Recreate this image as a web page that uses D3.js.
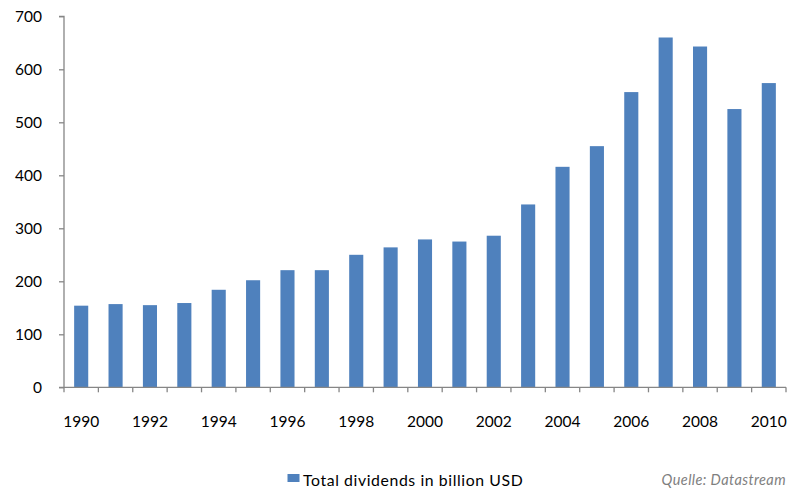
<!DOCTYPE html>
<html>
<head>
<meta charset="utf-8">
<script src="https://cdn.jsdelivr.net/npm/d3@7"></script>
<style>
  html, body { margin: 0; padding: 0; background: #fff; }
  svg { display: block; }
  text { font-family: Lato, "Open Sans", sans-serif; }
</style>
</head>
<body>
<svg id="chart" width="794" height="488"></svg>
<script>
// Yearly totals (billion USD)
const years = [1990, 1991, 1992, 1993, 1994, 1995, 1996, 1997, 1998, 1999, 2000,
               2001, 2002, 2003, 2004, 2005, 2006, 2007, 2008, 2009, 2010];
const dividends = [154, 157, 155, 159, 184, 202, 221, 221, 250, 264, 279,
                   275, 286, 345, 416, 455, 557, 660, 643, 525, 574];
const yTicks = [0, 100, 200, 300, 400, 500, 600, 700];
const xLabelYears = years.filter(y => y % 2 === 0);
const seriesName = "Total dividends in billion USD";
const sourceNote = "Quelle: Datastream";

const svg = d3.select("#chart");
const plotLeft = 64, plotRight = 786, plotTop = 16.3, plotBottom = 387.3;
const axisColor = "#868686";
const barColor = "#4F81BD";
const labelFont = "15.5px";

const x = d3.scaleBand().domain(years).range([plotLeft, plotRight]).paddingInner(0.59).paddingOuter(0.295);
const y = d3.scaleLinear().domain([0, 700]).range([plotBottom, plotTop]);

// bars
svg.append("g").selectAll("rect")
  .data(years.map((yr, i) => ({ yr, v: dividends[i] })))
  .join("rect")
  .attr("x", d => x(d.yr))
  .attr("width", x.bandwidth())
  .attr("y", d => y(d.v))
  .attr("height", d => y(0) - y(d.v))
  .attr("fill", barColor);

// y axis
const yAxis = svg.append("g")
  .attr("transform", `translate(${plotLeft},0)`)
  .call(d3.axisLeft(y).tickValues(yTicks).tickSize(5).tickPadding(17));
yAxis.select(".domain").attr("stroke", axisColor).attr("stroke-width", 1.3)
  .attr("d", `M-5,${plotTop}H0V${plotBottom}`);
yAxis.selectAll(".tick line").attr("stroke", axisColor).attr("stroke-width", 1.3);
yAxis.selectAll(".tick text").attr("fill", "#000").style("font-size", labelFont)
  .style("font-family", "Lato, sans-serif");

// x axis: tick marks sit on band boundaries, labels every second year
const step = x.step();
const bounds = d3.range(years.length + 1).map(i => plotLeft + i * step);
const xg = svg.append("g");
xg.append("line")
  .attr("x1", plotLeft - 5).attr("x2", plotRight)
  .attr("y1", plotBottom).attr("y2", plotBottom)
  .attr("stroke", axisColor).attr("stroke-width", 1.3);
xg.selectAll("line.tk").data(bounds).join("line").attr("class", "tk")
  .attr("x1", d => d).attr("x2", d => d)
  .attr("y1", plotBottom).attr("y2", plotBottom + 5)
  .attr("stroke", axisColor).attr("stroke-width", 1.3);
xg.selectAll("text").data(xLabelYears).join("text")
  .attr("x", d => x(d) + x.bandwidth() / 2)
  .attr("y", 427)
  .attr("text-anchor", "middle")
  .style("font-size", labelFont)
  .attr("fill", "#000")
  .text(d => d);

// legend
const lg = svg.append("g");
lg.append("rect").attr("x", 287.5).attr("y", 474).attr("width", 12).attr("height", 8).attr("fill", barColor);
lg.append("text").attr("x", 303).attr("y", 485.5)
  .style("font-size", "15.8px").style("letter-spacing", "0.6px")
  .attr("fill", "#000").text(seriesName);

// source note
svg.append("text")
  .attr("x", 786).attr("y", 485)
  .attr("text-anchor", "end")
  .style("font-size", "14.5px")
  .style("letter-spacing", "0.4px")
  .style("font-style", "italic")
  .attr("fill", "#7f7f7f")
  .text(sourceNote);
</script>
</body>
</html>
